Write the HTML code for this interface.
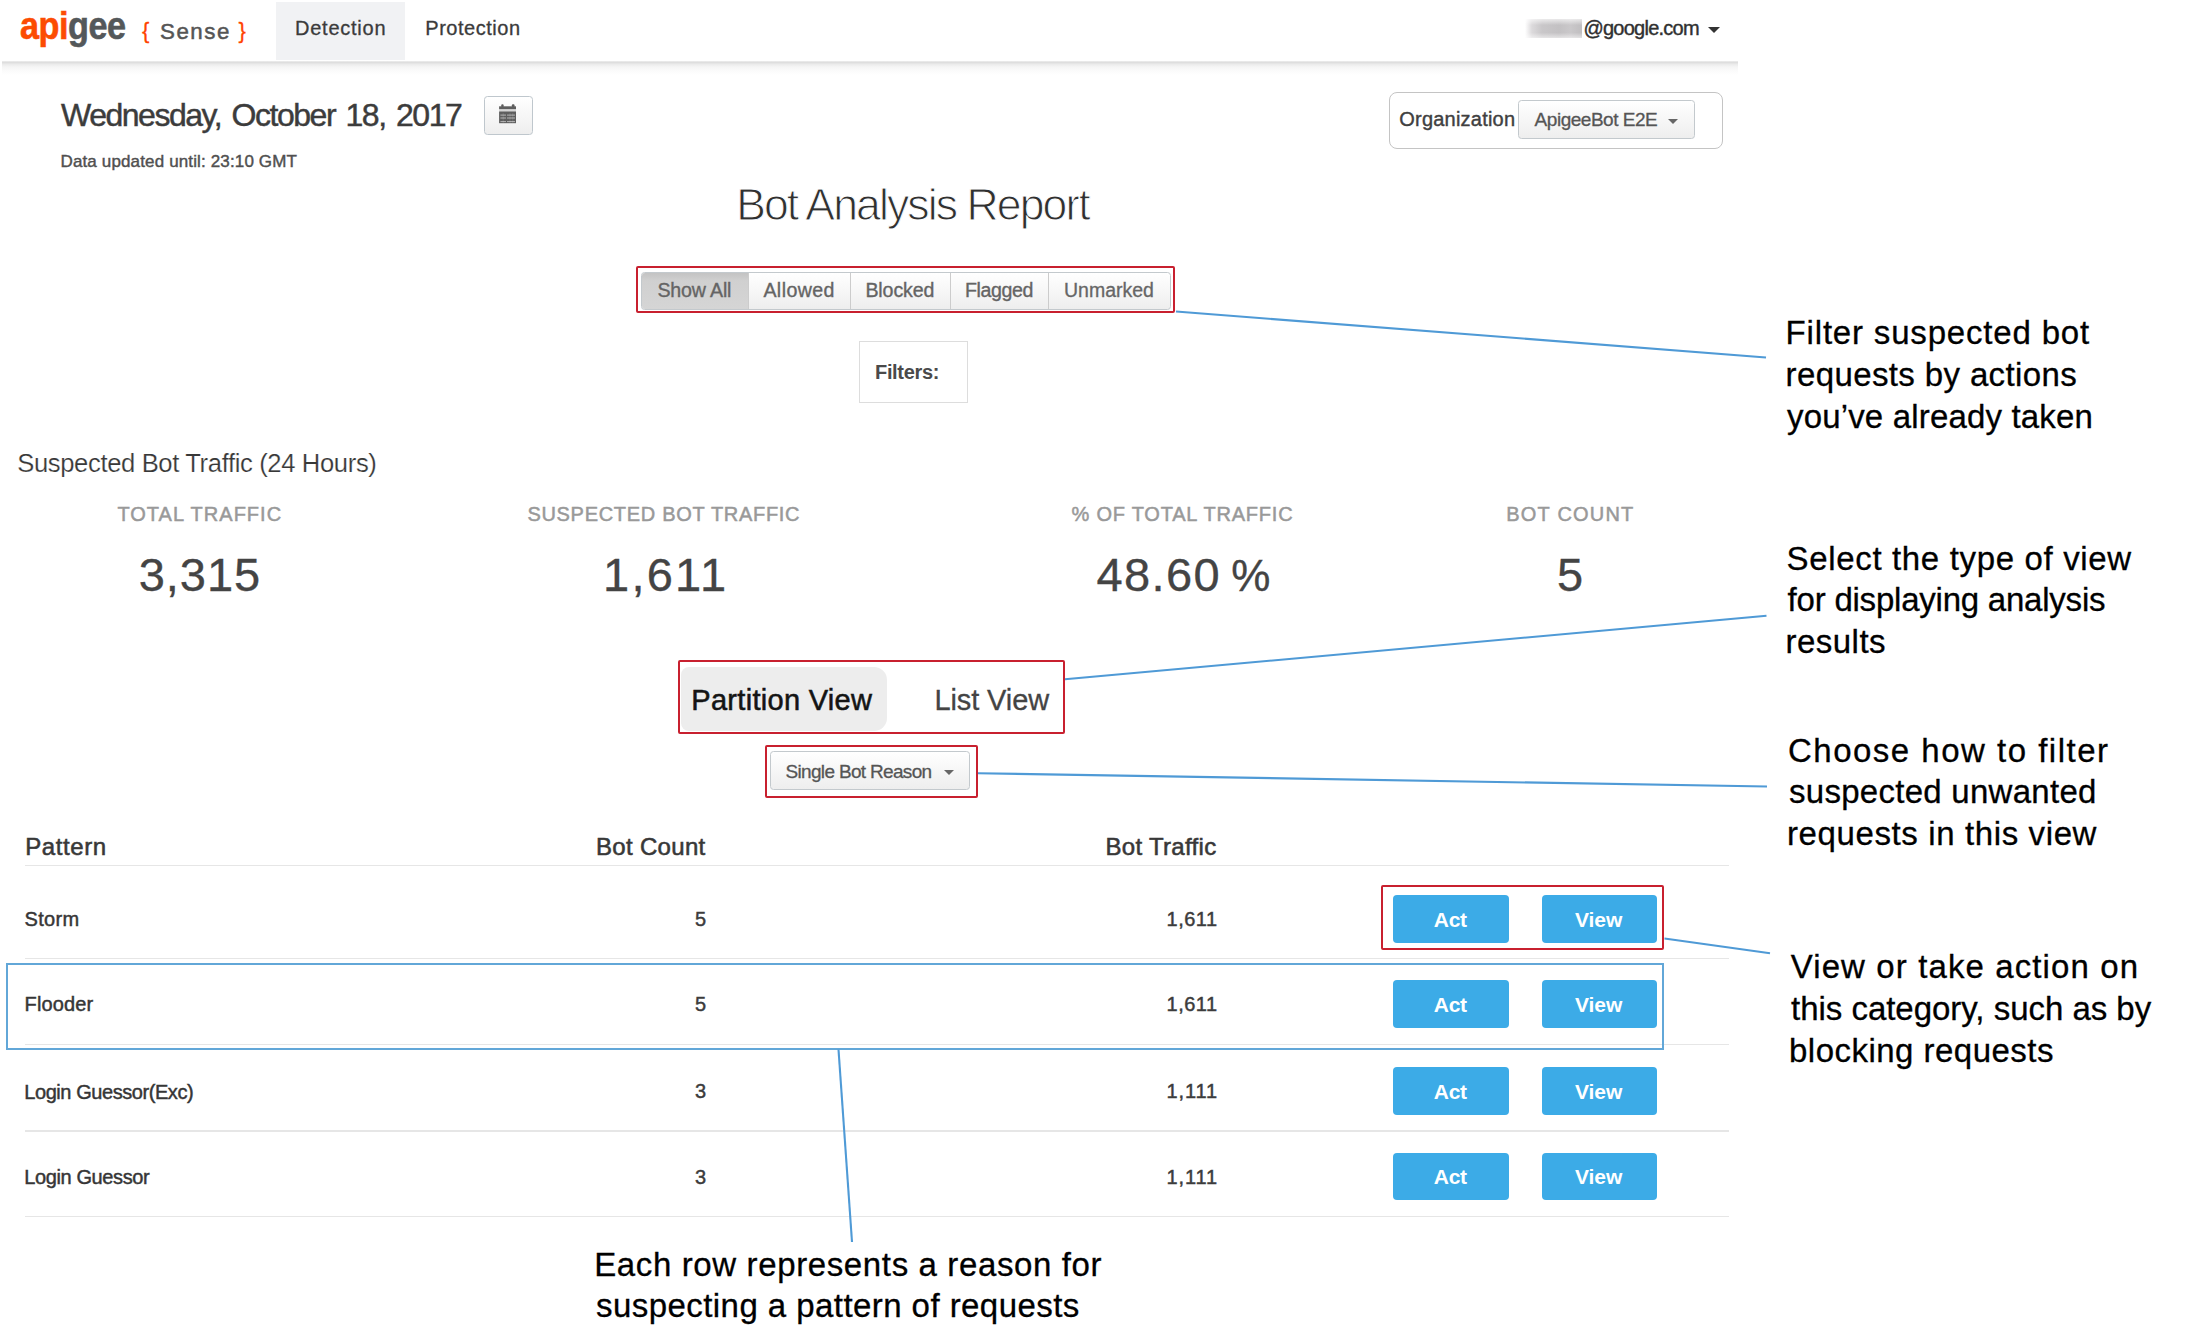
<!DOCTYPE html>
<html lang="en"><head><meta charset="utf-8"><title>Bot Analysis Report</title>
<style>
html,body{margin:0;padding:0;background:#fff;}
body{width:2208px;height:1329px;position:relative;overflow:hidden;font-family:"Liberation Sans",sans-serif;}
.t{position:absolute;white-space:nowrap;line-height:1;}
.b{position:absolute;box-sizing:border-box;}
.red{border:2px solid #c8202f;border-radius:2px;}
.btn{border:1px solid #c3c9cd;border-radius:3.5px;background:linear-gradient(#fff,#eee);}
.blue{background:#3cabe7;border-radius:4px;}
.hr{position:absolute;height:1.3px;background:#e6e6e6;left:25px;width:1704px;}
.caret{position:absolute;width:0;height:0;border-left:6px solid transparent;border-right:6px solid transparent;border-top:6px solid #555;}
</style></head><body>
<!-- navbar -->
<div class="b" style="left:2px;top:61px;width:1736px;height:15px;background:linear-gradient(to bottom,#eee 0,#dedede 1.5px,#ececec 3.5px,#f5f5f5 6px,#fbfbfb 10px,#fff 14px);"></div>
<div class="b" style="left:276px;top:2px;width:129px;height:58px;background:#f1f2f4;"></div>
<!-- logo -->
<span class="t" id="logo" style="left:19.6px;top:6.5px;font-size:38px;font-weight:700;letter-spacing:-0.5px;transform-origin:0 0;transform:scaleX(0.9);-webkit-text-stroke:0.6px;"><span style="color:#fc4c02">api</span><span style="color:#54585a">gee</span></span>
<!-- blurred user -->
<div class="b" style="left:1525px;top:19px;width:57px;height:19px;background:linear-gradient(to bottom,rgba(255,255,255,.65),rgba(255,255,255,0) 32%,rgba(255,255,255,0) 72%,rgba(255,255,255,.55)),linear-gradient(90deg,#fff 0,#dcdadc 12%,#c9c7c9 30%,#c3c1c3 60%,#cac8ca 80%,#c0bec0 100%);"></div>
<div class="caret" style="left:1707.5px;top:27.4px;border-top-color:#333;border-left-width:6px;border-right-width:6px;border-top-width:6px;"></div>
<!-- calendar button -->
<div class="b btn" style="left:484px;top:96px;width:49px;height:38.8px;border:1.5px solid #bfc7cd;"></div>
<svg class="b" style="left:499px;top:103.5px" width="18" height="20" viewBox="0 0 18 20"><g fill="#5e5e5e"><rect x="2.3" y="0.3" width="2.3" height="3" rx="0.9"/><rect x="12.9" y="0.3" width="2.6" height="3" rx="0.9"/><rect x="0.1" y="2.3" width="16.9" height="3"/><rect x="0.1" y="7.4" width="16.9" height="11.8"/></g><rect x="0.1" y="6" width="16.9" height="0.9" fill="#8a8a8a" opacity=".35"/><g stroke="#fff" stroke-width="0.9" opacity=".6"><path d="M1.4 11.1H7M8 11.1H16M1.4 14H7M8 14H16M1.4 17.6H7M8 17.6H16"/></g><g stroke="#fff" stroke-width="0.5" opacity=".25"><path d="M4.2 9V19M11 9V19M13.8 9V19"/></g></svg>
<!-- organization -->
<div class="b" style="left:1388.8px;top:92px;width:334.2px;height:57.1px;border:1.3px solid #c4c4c4;border-radius:8px;"></div>
<div class="b btn" style="left:1518px;top:100px;width:177px;height:38.5px;"></div>
<div class="caret" style="left:1668px;top:119px;border-top-color:#666;border-left-width:5.8px;border-right-width:5.8px;border-top-width:5.5px;"></div>
<!-- filter group -->
<div class="b red" style="left:636px;top:265.5px;width:539.2px;height:47.5px;"></div>
<div class="b btn" style="left:641px;top:272px;width:530px;height:38.3px;"></div>
<div class="b" style="left:642px;top:273px;width:106px;height:36.3px;background:linear-gradient(#c3c3c3,#d0d0d0 22%,#d5d5d5);border-radius:3px 0 0 3px;"></div>
<div class="b" style="left:748px;top:273px;width:1px;height:36.3px;background:#ccc;"></div>
<div class="b" style="left:850px;top:273px;width:1px;height:36.3px;background:#ccc;"></div>
<div class="b" style="left:950px;top:273px;width:1px;height:36.3px;background:#ccc;"></div>
<div class="b" style="left:1048px;top:273px;width:1px;height:36.3px;background:#ccc;"></div>
<div class="b" style="left:859px;top:341px;width:109px;height:62px;border:1px solid #ddd;"></div>
<!-- view switch -->
<div class="b red" style="left:678px;top:660px;width:387px;height:74px;"></div>
<div class="b" style="left:681px;top:667px;width:205.6px;height:63.8px;background:#ededed;border-radius:8px 13px 13px 8px;"></div>
<div class="b red" style="left:765px;top:745.3px;width:213px;height:53px;"></div>
<div class="b btn" style="left:770px;top:751px;width:200px;height:38.5px;"></div>
<div class="caret" style="left:943.5px;top:770px;border-top-color:#666;border-left-width:5.5px;border-right-width:5.5px;border-top-width:5.5px;"></div>
<!-- table -->
<div class="hr" style="top:865px;"></div>
<div class="hr" style="top:958px;"></div>
<div class="hr" style="top:1044px;"></div>
<div class="hr" style="top:1130.4px;"></div>
<div class="hr" style="top:1216px;"></div>
<div class="b blue" style="left:1393px;top:894.8px;width:116px;height:47.9px;"></div>
<div class="b blue" style="left:1541.5px;top:894.8px;width:115px;height:47.9px;"></div>
<div class="b blue" style="left:1393px;top:980.3px;width:116px;height:48.1px;"></div>
<div class="b blue" style="left:1541.5px;top:980.3px;width:115px;height:48.1px;"></div>
<div class="b blue" style="left:1393px;top:1067.1px;width:116px;height:47.8px;"></div>
<div class="b blue" style="left:1541.5px;top:1067.1px;width:115px;height:47.8px;"></div>
<div class="b blue" style="left:1393px;top:1152.6px;width:116px;height:47.9px;"></div>
<div class="b blue" style="left:1541.5px;top:1152.6px;width:115px;height:47.9px;"></div>
<div class="b red" style="left:1380.7px;top:885.4px;width:283.5px;height:64.7px;border-width:2px;"></div>
<div class="b" style="left:6.2px;top:963.2px;width:1658.1px;height:86.6px;border:2.3px solid #62a7d8;"></div>
<!-- lines -->
<svg class="b" style="left:0;top:0" width="2208" height="1329" viewBox="0 0 2208 1329" fill="none" stroke="#4f9ad6" stroke-width="2.1">
<line x1="1176" y1="311.5" x2="1766" y2="357.5"/>
<line x1="1065" y1="679.3" x2="1766.5" y2="615.7"/>
<line x1="978" y1="773.2" x2="1767" y2="786.5"/>
<line x1="1664.5" y1="938.5" x2="1770" y2="953.3"/>
<line x1="838.5" y1="1049.5" x2="852" y2="1242"/>
</svg>
<span class="t" style="left:295.00px;top:18.07px;font-size:20px;font-weight:400;color:#3b3b3b;letter-spacing:0.754px;-webkit-text-stroke:0.3px #3b3b3b;">Detection</span>
<span class="t" style="left:425.30px;top:18.07px;font-size:20px;font-weight:400;color:#3b3b3b;letter-spacing:0.530px;-webkit-text-stroke:0.3px #3b3b3b;">Protection</span>
<span class="t" style="left:1583.40px;top:18.07px;font-size:20px;font-weight:400;color:#303030;letter-spacing:-0.744px;-webkit-text-stroke:0.4px #303030;">@google.com</span>
<span class="t" style="left:160.00px;top:20.92px;font-size:22.3px;font-weight:400;color:#555;letter-spacing:1.545px;-webkit-text-stroke:0.5px #555;">Sense</span>
<span class="t" style="left:142.00px;top:20.08px;font-size:22px;font-weight:400;color:#ff4300;letter-spacing:0.000px;-webkit-text-stroke:0.3px #ff4300;">{</span>
<span class="t" style="left:238.50px;top:20.08px;font-size:22px;font-weight:400;color:#ff4300;letter-spacing:0.000px;-webkit-text-stroke:0.3px #ff4300;">}</span>
<span class="t" style="left:61.00px;top:98.91px;font-size:32px;font-weight:400;color:#3c3c3c;letter-spacing:-1.473px;-webkit-text-stroke:0.45px #3c3c3c;word-spacing:3px;">Wednesday, October 18, 2017</span>
<span class="t" style="left:60.50px;top:153.11px;font-size:17px;font-weight:400;color:#505050;letter-spacing:0.140px;-webkit-text-stroke:0.42px #505050;">Data updated until: 23:10 GMT</span>
<span class="t" style="left:1399.30px;top:108.77px;font-size:20px;font-weight:400;color:#404040;letter-spacing:0.211px;-webkit-text-stroke:0.4px #404040;">Organization</span>
<span class="t" style="left:1534.60px;top:110.42px;font-size:19px;font-weight:400;color:#555;letter-spacing:-0.475px;-webkit-text-stroke:0.3px #555;">ApigeeBot E2E</span>
<span class="t" style="left:736.20px;top:182.93px;font-size:44.5px;font-weight:400;color:#303030;letter-spacing:-1.879px;-webkit-text-stroke:1px #fff;">Bot Analysis Report</span>
<span class="t" style="left:657.40px;top:281.41px;font-size:19.6px;font-weight:400;color:#646464;letter-spacing:-0.154px;-webkit-text-stroke:0.35px #646464;">Show All</span>
<span class="t" style="left:763.40px;top:281.41px;font-size:19.6px;font-weight:400;color:#646464;letter-spacing:0.413px;-webkit-text-stroke:0.35px #646464;">Allowed</span>
<span class="t" style="left:865.40px;top:281.41px;font-size:19.6px;font-weight:400;color:#646464;letter-spacing:-0.102px;-webkit-text-stroke:0.35px #646464;">Blocked</span>
<span class="t" style="left:964.90px;top:281.41px;font-size:19.6px;font-weight:400;color:#646464;letter-spacing:-0.368px;-webkit-text-stroke:0.35px #646464;">Flagged</span>
<span class="t" style="left:1064.00px;top:281.49px;font-size:19.5px;font-weight:400;color:#666;letter-spacing:-0.015px;-webkit-text-stroke:0.3px #666;">Unmarked</span>
<span class="t" style="left:875.00px;top:361.77px;font-size:20px;font-weight:700;color:#4a4a4a;letter-spacing:-0.331px;">Filters:</span>
<span class="t" style="left:17.20px;top:450.73px;font-size:25.6px;font-weight:400;color:#383838;letter-spacing:-0.360px;-webkit-text-stroke:0.2px #fff;">Suspected Bot Traffic (24 Hours)</span>
<span class="t" style="left:117.40px;top:504.47px;font-size:20px;font-weight:400;color:#999;letter-spacing:1.020px;-webkit-text-stroke:0.5px #999;">TOTAL TRAFFIC</span>
<span class="t" style="left:527.40px;top:504.47px;font-size:20px;font-weight:400;color:#999;letter-spacing:0.697px;-webkit-text-stroke:0.5px #999;">SUSPECTED BOT TRAFFIC</span>
<span class="t" style="left:1071.50px;top:504.47px;font-size:20px;font-weight:400;color:#999;letter-spacing:0.781px;-webkit-text-stroke:0.5px #999;">% OF TOTAL TRAFFIC</span>
<span class="t" style="left:1506.30px;top:504.47px;font-size:20px;font-weight:400;color:#999;letter-spacing:1.193px;-webkit-text-stroke:0.5px #999;">BOT COUNT</span>
<span class="t" style="left:138.80px;top:551.41px;font-size:47px;font-weight:400;color:#444;letter-spacing:0.931px;-webkit-text-stroke:0.35px #444;">3,315</span>
<span class="t" style="left:603.00px;top:551.41px;font-size:47px;font-weight:400;color:#444;letter-spacing:2.253px;-webkit-text-stroke:0.35px #444;">1,611</span>
<span class="t" style="left:1096.50px;top:551.41px;font-size:47px;font-weight:400;color:#444;letter-spacing:1.381px;-webkit-text-stroke:0.35px #444;">48.60</span>
<span class="t" style="left:1231.30px;top:553.95px;font-size:44px;font-weight:400;color:#444;letter-spacing:0.000px;-webkit-text-stroke:0.35px #444;">%</span>
<span class="t" style="left:1557.00px;top:551.41px;font-size:47px;font-weight:400;color:#444;letter-spacing:0.000px;-webkit-text-stroke:0.35px #444;">5</span>
<span class="t" style="left:691.30px;top:685.85px;font-size:29px;font-weight:400;color:#141414;letter-spacing:0.297px;-webkit-text-stroke:0.55px #141414;">Partition View</span>
<span class="t" style="left:934.40px;top:685.85px;font-size:29px;font-weight:400;color:#444;letter-spacing:-0.097px;-webkit-text-stroke:0.3px #444;">List View</span>
<span class="t" style="left:785.50px;top:762.42px;font-size:19px;font-weight:400;color:#555;letter-spacing:-0.670px;-webkit-text-stroke:0.3px #555;">Single Bot Reason</span>
<span class="t" style="left:25.20px;top:835.48px;font-size:24px;font-weight:400;color:#383838;letter-spacing:0.595px;-webkit-text-stroke:0.55px #383838;">Pattern</span>
<span class="t" style="left:596.00px;top:835.48px;font-size:24px;font-weight:400;color:#383838;letter-spacing:0.317px;-webkit-text-stroke:0.55px #383838;">Bot Count</span>
<span class="t" style="left:1105.50px;top:835.48px;font-size:24px;font-weight:400;color:#383838;letter-spacing:0.306px;-webkit-text-stroke:0.55px #383838;">Bot Traffic</span>
<span class="t" style="left:24.50px;top:909.37px;font-size:20px;font-weight:400;color:#363636;letter-spacing:0.330px;-webkit-text-stroke:0.45px #363636;">Storm</span>
<span class="t" style="left:695.00px;top:909.17px;font-size:20px;font-weight:400;color:#3c3c3c;letter-spacing:0.000px;-webkit-text-stroke:0.45px #3c3c3c;">5</span>
<span class="t" style="left:1166.50px;top:909.17px;font-size:20px;font-weight:400;color:#3c3c3c;letter-spacing:0.515px;-webkit-text-stroke:0.45px #3c3c3c;">1,611</span>
<span class="t" style="left:1433.80px;top:908.52px;font-size:21px;font-weight:700;color:#fff;letter-spacing:-0.322px;">Act</span>
<span class="t" style="left:1575.00px;top:908.52px;font-size:21px;font-weight:700;color:#fff;letter-spacing:-0.047px;">View</span>
<span class="t" style="left:24.60px;top:994.47px;font-size:20px;font-weight:400;color:#363636;letter-spacing:0.125px;-webkit-text-stroke:0.45px #363636;">Flooder</span>
<span class="t" style="left:695.00px;top:994.27px;font-size:20px;font-weight:400;color:#3c3c3c;letter-spacing:0.000px;-webkit-text-stroke:0.45px #3c3c3c;">5</span>
<span class="t" style="left:1166.50px;top:994.27px;font-size:20px;font-weight:400;color:#3c3c3c;letter-spacing:0.515px;-webkit-text-stroke:0.45px #3c3c3c;">1,611</span>
<span class="t" style="left:1433.80px;top:993.62px;font-size:21px;font-weight:700;color:#fff;letter-spacing:-0.322px;">Act</span>
<span class="t" style="left:1575.00px;top:993.62px;font-size:21px;font-weight:700;color:#fff;letter-spacing:-0.047px;">View</span>
<span class="t" style="left:24.30px;top:1081.97px;font-size:20px;font-weight:400;color:#363636;letter-spacing:-0.434px;-webkit-text-stroke:0.45px #363636;">Login Guessor(Exc)</span>
<span class="t" style="left:695.00px;top:1081.47px;font-size:20px;font-weight:400;color:#3c3c3c;letter-spacing:0.000px;-webkit-text-stroke:0.45px #3c3c3c;">3</span>
<span class="t" style="left:1166.50px;top:1081.47px;font-size:20px;font-weight:400;color:#3c3c3c;letter-spacing:0.886px;-webkit-text-stroke:0.45px #3c3c3c;">1,111</span>
<span class="t" style="left:1433.80px;top:1080.82px;font-size:21px;font-weight:700;color:#fff;letter-spacing:-0.322px;">Act</span>
<span class="t" style="left:1575.00px;top:1080.82px;font-size:21px;font-weight:700;color:#fff;letter-spacing:-0.047px;">View</span>
<span class="t" style="left:24.30px;top:1167.47px;font-size:20px;font-weight:400;color:#363636;letter-spacing:-0.393px;-webkit-text-stroke:0.45px #363636;">Login Guessor</span>
<span class="t" style="left:695.00px;top:1166.67px;font-size:20px;font-weight:400;color:#3c3c3c;letter-spacing:0.000px;-webkit-text-stroke:0.45px #3c3c3c;">3</span>
<span class="t" style="left:1166.50px;top:1166.67px;font-size:20px;font-weight:400;color:#3c3c3c;letter-spacing:0.886px;-webkit-text-stroke:0.45px #3c3c3c;">1,111</span>
<span class="t" style="left:1433.80px;top:1166.02px;font-size:21px;font-weight:700;color:#fff;letter-spacing:-0.322px;">Act</span>
<span class="t" style="left:1575.00px;top:1166.02px;font-size:21px;font-weight:700;color:#fff;letter-spacing:-0.047px;">View</span>
<span class="t" style="left:1785.60px;top:316.07px;font-size:33px;font-weight:400;color:#000;letter-spacing:0.821px;-webkit-text-stroke:0.3px #000;">Filter suspected bot</span>
<span class="t" style="left:1785.60px;top:358.07px;font-size:33px;font-weight:400;color:#000;letter-spacing:0.377px;-webkit-text-stroke:0.3px #000;">requests by actions</span>
<span class="t" style="left:1787.00px;top:399.57px;font-size:33px;font-weight:400;color:#000;letter-spacing:0.167px;-webkit-text-stroke:0.3px #000;">you’ve already taken</span>
<span class="t" style="left:1786.60px;top:542.47px;font-size:33px;font-weight:400;color:#000;letter-spacing:0.652px;-webkit-text-stroke:0.3px #000;">Select the type of view</span>
<span class="t" style="left:1787.60px;top:583.07px;font-size:33px;font-weight:400;color:#000;letter-spacing:-0.224px;-webkit-text-stroke:0.3px #000;">for displaying analysis</span>
<span class="t" style="left:1785.60px;top:625.27px;font-size:33px;font-weight:400;color:#000;letter-spacing:0.451px;-webkit-text-stroke:0.3px #000;">results</span>
<span class="t" style="left:1788.00px;top:733.77px;font-size:33px;font-weight:400;color:#000;letter-spacing:1.492px;-webkit-text-stroke:0.3px #000;">Choose how to filter</span>
<span class="t" style="left:1789.00px;top:775.07px;font-size:33px;font-weight:400;color:#000;letter-spacing:0.273px;-webkit-text-stroke:0.3px #000;">suspected unwanted</span>
<span class="t" style="left:1787.00px;top:816.57px;font-size:33px;font-weight:400;color:#000;letter-spacing:0.615px;-webkit-text-stroke:0.3px #000;">requests in this view</span>
<span class="t" style="left:1790.70px;top:950.47px;font-size:33px;font-weight:400;color:#000;letter-spacing:1.108px;-webkit-text-stroke:0.3px #000;">View or take action on</span>
<span class="t" style="left:1791.00px;top:991.67px;font-size:33px;font-weight:400;color:#000;letter-spacing:-0.022px;-webkit-text-stroke:0.3px #000;">this category, such as by</span>
<span class="t" style="left:1789.00px;top:1034.07px;font-size:33px;font-weight:400;color:#000;letter-spacing:0.480px;-webkit-text-stroke:0.3px #000;">blocking requests</span>
<span class="t" style="left:594.20px;top:1247.87px;font-size:33px;font-weight:400;color:#000;letter-spacing:0.628px;-webkit-text-stroke:0.3px #000;">Each row represents a reason for</span>
<span class="t" style="left:596.00px;top:1288.87px;font-size:33px;font-weight:400;color:#000;letter-spacing:0.441px;-webkit-text-stroke:0.3px #000;">suspecting a pattern of requests</span>
</body></html>
